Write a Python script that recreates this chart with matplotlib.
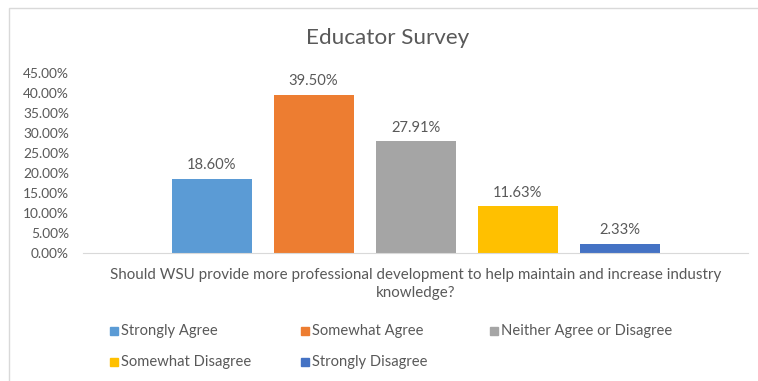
import matplotlib.pyplot as plt
from matplotlib.patches import Rectangle
from matplotlib.ticker import FuncFormatter

plt.rcParams['font.family'] = ['Lato', 'DejaVu Sans']

# survey answers and shares (%)
answers = ['Strongly Agree', 'Somewhat Agree', 'Neither Agree or Disagree',
           'Somewhat Disagree', 'Strongly Disagree']
shares = [18.60, 39.50, 27.91, 11.63, 2.33]
colors = ['#5B9BD5', '#ED7D31', '#A5A5A5', '#FFC000', '#4472C4']
question = ('Should WSU provide more professional development to help maintain and increase industry\n'
            'knowledge?')
yticks = [0, 5, 10, 15, 20, 25, 30, 35, 40, 45]

txt = '#595959'
W, H = 758, 381
fig = plt.figure(figsize=(W / 100, H / 100), dpi=100)

# chart area border
fig.add_artist(Rectangle((9 / W, -0.1), 1.1, (H - 8) / H + 0.1, transform=fig.transFigure,
                         fill=False, edgecolor='#D9D9D9', lw=1))

ax = fig.add_axes([83 / W, (H - 253) / H, (748 - 83) / W, 180 / H])
step = 102 / 665
width = 80 / 665
for i, (a, v, c) in enumerate(zip(answers, shares, colors)):
    x = (i - 2) * step
    ax.bar(x, v, width=width, color=c, label=a)
    ax.text(x, v + 1.7, f'{v:.2f}%', ha='center', va='bottom', fontsize=10.6, color=txt)

ax.set_xlim(-0.5, 0.5)
ax.set_ylim(0, 45)
ax.set_yticks(yticks)
ax.yaxis.set_major_formatter(FuncFormatter(lambda v, p: f'{v:.2f}%'))
ax.tick_params(axis='y', length=0, labelsize=9.9, labelcolor=txt, pad=10)
ax.set_xticks([0])
ax.set_xticklabels([question], fontsize=10.9, color=txt, linespacing=1.35)
ax.tick_params(axis='x', length=0, pad=11)
for s in ['top', 'right', 'left']:
    ax.spines[s].set_visible(False)
ax.spines['bottom'].set_color('#D9D9D9')

fig.text(0.511, (H - 38) / H, 'Educator Survey', ha='center', va='center', fontsize=16.2, color=txt)

# legend laid out row by row, three per row
col_x = [110, 301, 490]
row_y = [331, 362]
for i, (a, c) in enumerate(zip(answers, colors)):
    lx = col_x[i % 3]
    ly = row_y[i // 3]
    fig.add_artist(Rectangle((lx / W, (H - ly - 4) / H), 8 / W, 8 / H,
                             transform=fig.transFigure, color=c))
    fig.text((lx + 11) / W, (H - ly) / H, a, ha='left', va='center', fontsize=10.6, color=txt)

fig.savefig('out.png', dpi=100)
